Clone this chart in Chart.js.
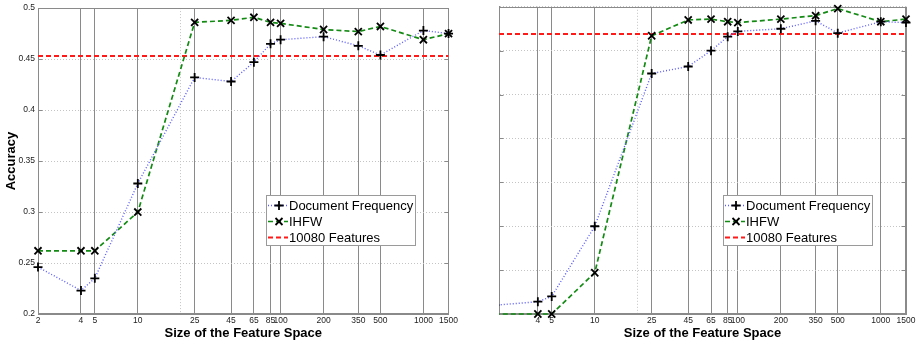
<!DOCTYPE html>
<html>
<head>
<meta charset="utf-8">
<title>Accuracy vs size of the feature space</title>
<script src="https://cdn.jsdelivr.net/npm/chart.js@4.4.1/dist/chart.umd.min.js"></script>
<style>
  html, body { margin: 0; padding: 0; background: #fff; }
  #wrap { position: relative; width: 919px; height: 344px; overflow: hidden; }
  canvas { position: absolute; top: 0; }
  #leftChart { left: 0; }
  #rightChart { left: 460px; }
</style>
</head>
<body>
<div id="wrap">
  <canvas id="leftChart" width="460" height="344"></canvas>
  <canvas id="rightChart" width="459" height="344"></canvas>
</div>
<script>
// ---- data ----
const featureSizes = [2, 4, 5, 10, 25, 45, 65, 85, 100, 200, 350, 500, 1000, 1500];
const leftXTicks = [2, 4, 5, 10, 20, 25, 45, 65, 85, 100, 200, 350, 500, 1000, 1500];
const rightXTicks = [4, 5, 10, 20, 25, 45, 65, 85, 100, 200, 350, 500, 1000, 1500];
const unlabelledTicks = [20];

const leftYTicks = [0.2, 0.25, 0.3, 0.35, 0.4, 0.45, 0.5];
const rightYTicks = [0.15, 0.2, 0.25, 0.3, 0.35, 0.4, 0.45, 0.5];

const dfLeft = [0.246, 0.223, 0.235, 0.328, 0.432, 0.428, 0.447, 0.465, 0.469, 0.472, 0.463, 0.454, 0.478, 0.475];
const ihfwLeft = [0.262, 0.262, 0.262, 0.300, 0.486, 0.488, 0.491, 0.486, 0.485, 0.479, 0.477, 0.482, 0.469, 0.475];
const baselineLeft = 0.453;

const dfRight = [0.160, 0.164, 0.170, 0.250, 0.424, 0.432, 0.450, 0.466, 0.472, 0.475, 0.484, 0.470, 0.483, 0.482];
const ihfwRight = [0.150, 0.150, 0.150, 0.197, 0.467, 0.485, 0.486, 0.483, 0.482, 0.486, 0.490, 0.498, 0.483, 0.486];
const baselineRight = 0.469;

const seriesNames = ["Document Frequency", "IHFW", "10080 Features"];

Chart.defaults.font.family = "'Liberation Sans', Arial, Helvetica, sans-serif";
Chart.defaults.color = "#222";

const GRID_DARK = "#8a8a8a";
const GRID_LIGHT = "#c4c4c4";

/**
 * Plot frame (top/right edges) plus MATLAB-style inward y ticks
 */
const framePlugin = {
  id: "frame",
  beforeDatasetsDraw(chart) {
    const { ctx, chartArea: a, scales } = chart;
    ctx.save();
    ctx.strokeStyle = GRID_DARK;
    ctx.lineWidth = 1;
    ctx.setLineDash([]);
    const l = Math.round(a.left) + 0.5;
    const r = Math.round(a.right) - 0.5;
    const t = Math.round(a.top) + 0.5;
    const b = Math.round(a.bottom) - 0.5;
    ctx.strokeRect(l, t, r - l, b - t);
    ctx.beginPath();
    scales.y.ticks.forEach((tk) => {
      const y = Math.round(scales.y.getPixelForValue(tk.value)) + 0.5;
      ctx.moveTo(l, y);
      ctx.lineTo(l + 4, y);
      ctx.moveTo(r, y);
      ctx.lineTo(r - 4, y);
    });
    ctx.stroke();
    ctx.restore();
  },
};

/**
 * Legend box drawn inside the plot area, like the MATLAB one
 */
const boxLegendPlugin = {
  id: "boxLegend",
  afterDatasetsDraw(chart, args, opts) {
    const { ctx } = chart;
    const x0 = opts.left;
    const y0 = opts.top;
    ctx.save();
    ctx.fillStyle = "#fff";
    ctx.fillRect(x0, y0, 149, 50);
    ctx.strokeStyle = "#9a9a9a";
    ctx.lineWidth = 1;
    ctx.setLineDash([]);
    ctx.strokeRect(x0 + 0.5, y0 + 0.5, 149, 50);

    chart.data.datasets.forEach((ds, i) => {
      const y = y0 + 10.5 + i * 16;
      ctx.strokeStyle = ds.borderColor;
      ctx.lineWidth = ds.borderWidth;
      ctx.setLineDash(ds.borderDash || []);
      ctx.beginPath();
      ctx.moveTo(x0 + 2, y);
      ctx.lineTo(x0 + 22, y);
      ctx.stroke();
      ctx.setLineDash([]);
      if (ds.pointRadius > 0) {
        ctx.strokeStyle = "#000";
        ctx.lineWidth = 1.8;
        ctx.beginPath();
        const cx = x0 + 13;
        if (ds.pointStyle === "cross") {
          ctx.moveTo(cx - 4.5, y);
          ctx.lineTo(cx + 4.5, y);
          ctx.moveTo(cx, y - 4.5);
          ctx.lineTo(cx, y + 4.5);
        } else {
          ctx.moveTo(cx - 3.5, y - 3.5);
          ctx.lineTo(cx + 3.5, y + 3.5);
          ctx.moveTo(cx - 3.5, y + 3.5);
          ctx.lineTo(cx + 3.5, y - 3.5);
        }
        ctx.stroke();
      }
      ctx.fillStyle = "#000";
      ctx.font = "13px 'Liberation Sans', Arial, sans-serif";
      ctx.textBaseline = "middle";
      ctx.fillText(seriesNames[i], x0 + 23, y + 0.5);
    });
    ctx.restore();
  },
};

function toPoints(xs, ys) {
  return xs.map((x, i) => ({ x: x, y: ys[i] }));
}

function makeChart(canvasId, cfg) {
  const clip = cfg.clip;
  const datasets = [
    {
      label: seriesNames[0],
      data: toPoints(featureSizes, cfg.df),
      borderColor: "#5c5cff",
      borderWidth: 1.4,
      borderDash: [1, 2],
      pointStyle: "cross",
      pointRadius: 4.5,
      pointBorderColor: "#000",
      pointBorderWidth: 1.8,
      clip: clip,
    },
    {
      label: seriesNames[1],
      data: toPoints(featureSizes, cfg.ihfw),
      borderColor: "#138a13",
      borderWidth: 1.7,
      borderDash: [5, 3],
      pointStyle: "crossRot",
      pointRadius: 5,
      pointBorderColor: "#000",
      pointBorderWidth: 1.8,
      clip: clip,
    },
    {
      label: seriesNames[2],
      data: [
        { x: cfg.xMin, y: cfg.baseline },
        { x: 1500, y: cfg.baseline },
      ],
      borderColor: "#ff1a1a",
      borderWidth: 2,
      borderDash: [5, 3],
      pointRadius: 0,
    },
  ];

  return new Chart(document.getElementById(canvasId), {
    type: "line",
    data: { datasets: datasets },
    plugins: [framePlugin, boxLegendPlugin],
    options: {
      responsive: false,
      animation: false,
      devicePixelRatio: 1,
      layout: { padding: { top: 6, right: cfg.rightPad, left: 0, bottom: 0 } },
      elements: { line: { tension: 0, fill: false } },
      plugins: {
        legend: { display: false },
        tooltip: { enabled: false },
        boxLegend: { left: cfg.legendLeft, top: 195 },
      },
      scales: {
        x: {
          type: "logarithmic",
          min: cfg.xMin,
          max: 1500,
          afterBuildTicks: (s) => {
            s.ticks = cfg.xTicks.map((v) => ({ value: v }));
          },
          afterFit: (s) => {
            s.height = 30;
          },
          ticks: {
            autoSkip: false,
            maxRotation: 0,
            padding: 2,
            font: { size: 8.5 },
            color: "#222",
            callback: (v) => (unlabelledTicks.includes(v) ? "" : String(v)),
          },
          grid: {
            drawTicks: false,
            color: (c) => (c.tick && unlabelledTicks.includes(c.tick.value) ? GRID_LIGHT : GRID_DARK),
          },
          border: {
            color: GRID_DARK,
            dash: (c) => (c.tick && unlabelledTicks.includes(c.tick.value) ? [1, 2] : []),
          },
          title: {
            display: true,
            text: "Size of the Feature Space",
            font: { size: 13, weight: "bold" },
            color: "#000",
            padding: { top: 0, bottom: 3 },
          },
        },
        y: {
          type: "linear",
          min: cfg.yTicks[0],
          max: cfg.yTicks[cfg.yTicks.length - 1],
          afterBuildTicks: (s) => {
            s.ticks = cfg.yTicks.map((v) => ({ value: v }));
          },
          afterFit: (s) => {
            s.width = cfg.yWidth;
          },
          ticks: {
            display: cfg.showYLabels,
            padding: 3,
            font: { size: 8.5 },
            color: "#222",
            callback: (v) => String(+v.toFixed(2)),
          },
          grid: { drawTicks: false, color: GRID_LIGHT },
          border: { color: GRID_DARK, dash: [1, 2] },
          title: {
            display: cfg.showYLabels,
            text: "Accuracy",
            font: { size: 13, weight: "bold" },
            color: "#000",
            padding: { top: 4, bottom: 0 },
          },
        },
      },
    },
  });
}

makeChart("leftChart", {
  df: dfLeft,
  ihfw: ihfwLeft,
  baseline: baselineLeft,
  xMin: 2,
  xTicks: leftXTicks,
  yTicks: leftYTicks,
  yWidth: 38,
  rightPad: 11,
  showYLabels: true,
  legendLeft: 266,
  clip: false,
});

makeChart("rightChart", {
  df: dfRight,
  ihfw: ihfwRight,
  baseline: baselineRight,
  xMin: 2.14,
  xTicks: rightXTicks,
  yTicks: rightYTicks,
  yWidth: 39,
  rightPad: 13,
  showYLabels: false,
  legendLeft: 263,
  clip: { left: 0, top: 8, right: 8, bottom: 8 },
});
</script>
</body>
</html>
